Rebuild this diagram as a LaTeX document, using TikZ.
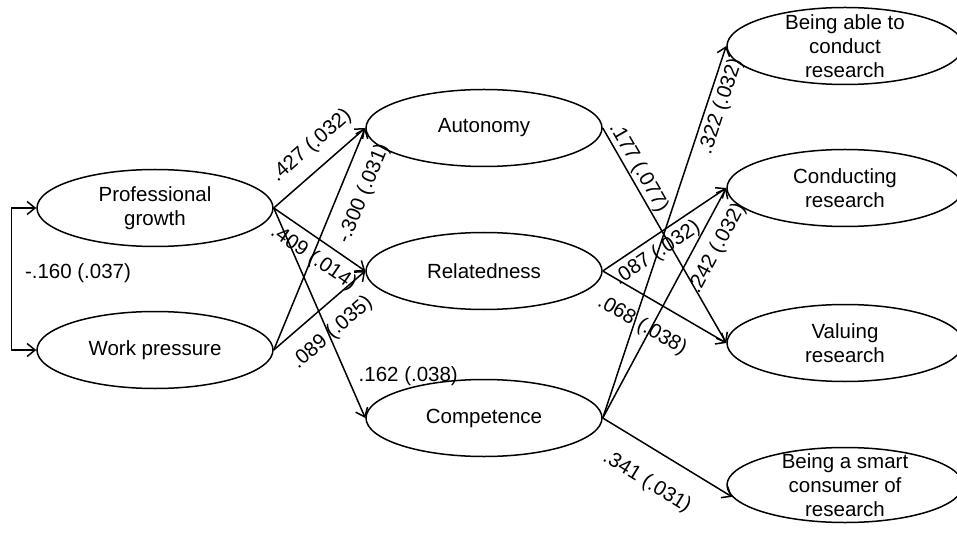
\documentclass[tikz,border=0pt]{standalone}
\usepackage{fontspec}
\setmainfont{Liberation Sans}
\usetikzlibrary{shapes.geometric,arrows.meta}

\tikzset{
  factor/.style={ellipse, draw, line width=1.5pt, minimum width=236pt, minimum height=77pt,
    inner sep=0pt, align=center, font=\fontsize{20.5}{24}\selectfont},
  factortext/.style={align=center, font=\fontsize{20.5}{24}\selectfont},
  effect/.style={line width=1.5pt, ->},
  coef/.style={font=\fontsize{20.5}{24}\selectfont, inner sep=0pt, sloped},
}

\begin{document}
\begin{tikzpicture}[x=1pt, y=-1pt, >={Straight Barb[length=8pt,width=13pt]}]
  \useasboundingbox (0,0) rectangle (957,534);
  % predictors
  \node[factor] (growth) at (155,208) {Professional\\growth};
  \node[factor] (pressure) at (155,350) {Work pressure};
  % basic needs
  \node[factor] (autonomy) at (484,128) {Autonomy};
  \node[factor] (relatedness) at (484,271) {Relatedness};
  \node[factor] (competence) at (484,418) {Competence};
  % outcomes
  \node[factor, label={[factortext]center:Being able to\\conduct\\research}] (able) at (845,46) {};
  \node[factor] (conducting) at (845,188) {Conducting\\research};
  \node[factor] (valuing) at (845,343) {Valuing\\research};
  \node[factor, minimum height=75pt, label={[factortext]center:Being a smart\\consumer of\\research}] (smart) at (845,485) {};

  % correlation
  \draw[line width=1.5pt, <->] (growth.west) -- ++(-25,0)
    |- node[pos=0.229, right=13pt, font=\fontsize{20.5}{24}\selectfont, inner sep=0pt] (corr) {-.160 (.037)} (pressure.west);

  % predictors -> needs
  \draw[effect] (growth.east) -- node[coef, pos=0.57, above=11.5pt] {.427 (.032)} (autonomy.west);
  \draw[effect] (growth.east) -- node[coef, pos=0.55, below=8.5pt] {.409 (.014)} (relatedness.west);
  \draw[effect] (growth.east) -- node[pos=0.8, right=11pt, inner sep=0pt, font=\fontsize{20.5}{24}\selectfont] {.162 (.038)} (competence.west);
  \draw[effect] (pressure.east) -- node[coef, pos=0.745, below=13.5pt] {-.300 (.031)} (autonomy.west);
  \draw[effect] (pressure.east) -- node[coef, pos=0.46, below=15pt] {.089 (.035)} (relatedness.west);

  % needs -> outcomes
  \draw[effect] (autonomy.east) -- node[coef, pos=0.21, above=1pt] {.177 (.077)} (valuing.west);
  \draw[effect] (relatedness.east) -- node[coef, pos=0.37, below=5.5pt] {.087 (.032)} (conducting.west);
  \draw[effect] (relatedness.east) -- node[coef, pos=0.43, below=17pt] {.068 (.038)} (valuing.west);
  \draw[effect] (competence.east) -- node[coef, pos=0.85, below=4pt] {.322 (.032)} (able.west);
  \draw[effect] (competence.east) -- node[coef, pos=0.78, below=10.5pt] {.242 (.032)} (conducting.west);
  \draw[effect] (competence.east) -- node[coef, pos=0.47, below=21.5pt] {.341 (.031)} (smart.186);
\end{tikzpicture}
\end{document}
